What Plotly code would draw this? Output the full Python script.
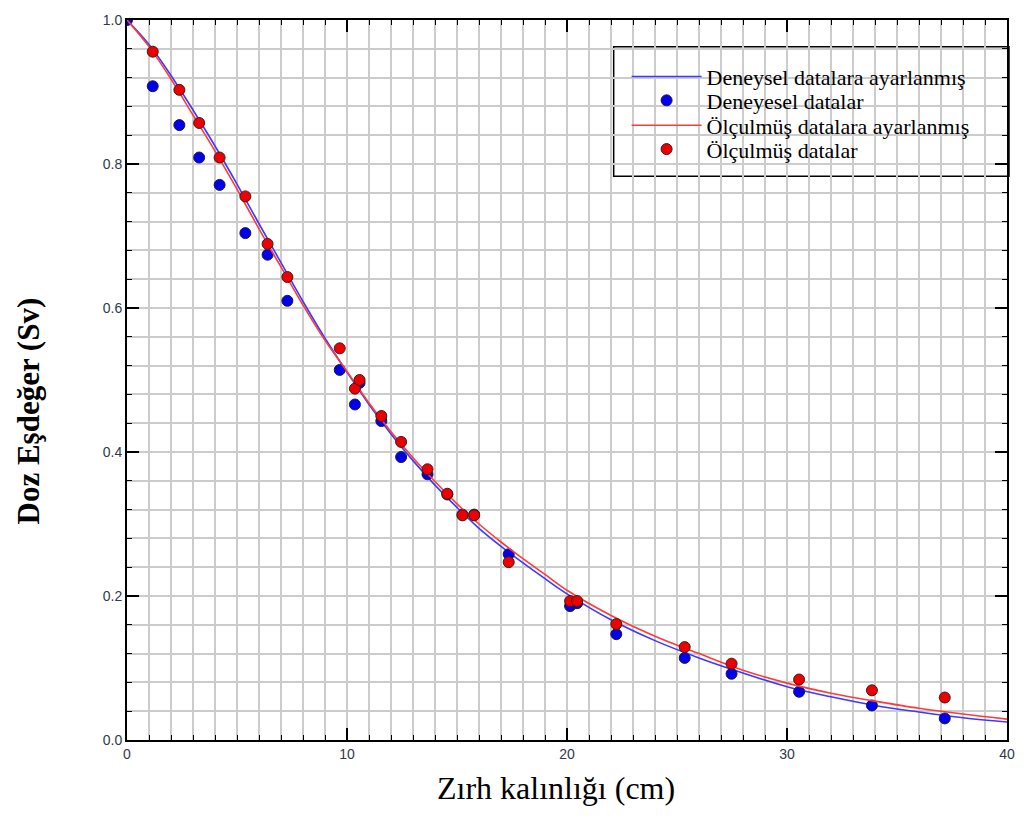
import plotly.graph_objects as go

# Experimental data (Deneyesel datalar)
exp_x = [0, 1.17, 2.38, 3.28, 4.21, 5.38, 6.39, 7.29, 9.67, 10.36, 10.57, 11.56, 12.46, 13.66,
         14.56, 15.25, 15.78, 17.35, 20.14, 20.46, 22.24, 25.35, 27.48, 30.55, 33.86, 37.17]
exp_y = [1.0, 0.908, 0.854, 0.809, 0.771, 0.704, 0.674, 0.610, 0.514, 0.466, 0.496, 0.443, 0.393, 0.369,
         0.341, 0.313, 0.313, 0.258, 0.186, 0.190, 0.147, 0.114, 0.092, 0.067, 0.048, 0.030]

# Measured data (Ölçulmüş datalar)
mea_x = [1.17, 2.38, 3.28, 4.21, 5.38, 6.39, 7.29, 9.67, 10.36, 10.57, 11.56, 12.46, 13.66,
         14.56, 15.25, 15.78, 17.35, 20.14, 20.46, 22.24, 25.35, 27.48, 30.55, 33.86, 37.17]
mea_y = [0.956, 0.903, 0.857, 0.809, 0.755, 0.689, 0.643, 0.544, 0.488, 0.500, 0.450, 0.414, 0.376,
         0.342, 0.312, 0.312, 0.247, 0.193, 0.193, 0.161, 0.129, 0.106, 0.084, 0.069, 0.059]

# Fitted curves
fit_x = [0, 1, 2, 3, 4, 5, 6, 7, 8, 9, 10, 11, 12, 13, 14, 15, 16, 17, 18, 19, 20,
         22, 24, 26, 28, 30, 32, 34, 36, 38, 40]
fit_exp_y = [1.0, 0.966, 0.923, 0.875, 0.825, 0.772, 0.717, 0.663, 0.609, 0.558, 0.511, 0.466,
             0.425, 0.388, 0.354, 0.323, 0.294, 0.269, 0.246, 0.224, 0.203,
             0.167, 0.138, 0.114, 0.093, 0.074, 0.060, 0.048, 0.039, 0.031, 0.025]
fit_mea_y = [1.0, 0.963, 0.918, 0.868, 0.818, 0.765, 0.710, 0.657, 0.604, 0.555, 0.512, 0.468,
             0.428, 0.392, 0.359, 0.328, 0.300, 0.275, 0.252, 0.230, 0.208,
             0.173, 0.144, 0.120, 0.097, 0.079, 0.065, 0.054, 0.044, 0.036, 0.029]

names = ["Deneysel datalara ayarlanmış", "Deneyesel datalar",
         "Ölçulmüş datalara ayarlanmış", "Ölçulmüş datalar"]

SERIF = "Liberation Serif, Times New Roman, serif"

fig = go.Figure()
fig.add_trace(go.Scatter(x=fit_x, y=fit_exp_y, mode="lines", name=names[0], legend="legend",
                         line=dict(color="#3a3aff", width=1.6, shape="spline")))
fig.add_trace(go.Scatter(x=exp_x, y=exp_y, mode="markers", name=names[1], legend="legend2",
                         marker=dict(color="#0000ee", size=11, line=dict(color="#1a1a40", width=1))))
fig.add_trace(go.Scatter(x=fit_x, y=fit_mea_y, mode="lines", name=names[2], legend="legend3",
                         line=dict(color="#ff3a3a", width=1.6, shape="spline")))
fig.add_trace(go.Scatter(x=mea_x, y=mea_y, mode="markers", name=names[3], legend="legend4",
                         marker=dict(color="#ee0000", size=11, line=dict(color="#401a1a", width=1))))

W, H = 1027, 833
L, R, T, B = 127, 14, 16, 93
pw, ph = W - L - R, H - T - B

def px_x(p):
    return (p - L) / pw

def px_y(p):
    return (H - B - p) / ph

tickfont = dict(family="Liberation Sans, Arial", size=14, color="#33384a")
grid = "#cccccc"

fig.update_xaxes(range=[0, 40], dtick=10, tick0=0, showgrid=True, gridcolor=grid, gridwidth=1.5,
                 ticks="inside", ticklen=12, tickwidth=1.5, tickcolor="black",
                 showline=True, linecolor="black", linewidth=2, mirror="allticks",
                 zeroline=False, tickfont=tickfont,
                 minor=dict(dtick=1, showgrid=True, gridcolor=grid, gridwidth=1.5,
                            ticks="inside", ticklen=5, tickwidth=1, tickcolor="black"))
fig.update_yaxes(range=[0, 1.0], dtick=0.2, tick0=0, tickformat=".1f", showgrid=True, gridcolor=grid,
                 gridwidth=1.5, ticks="inside", ticklen=12, tickwidth=1.5, tickcolor="black",
                 showline=True, linecolor="black", linewidth=2, mirror="allticks",
                 zeroline=False, tickfont=tickfont,
                 minor=dict(dtick=0.04, showgrid=True, gridcolor=grid, gridwidth=1.5,
                            ticks="inside", ticklen=5, tickwidth=1, tickcolor="black"))

fig.add_shape(type="rect", xref="paper", yref="paper",
              x0=px_x(617), x1=px_x(1015), y0=px_y(173), y1=px_y(43),
              line=dict(color="black", width=1.5), fillcolor="white", layer="between")

row_y = [73, 97, 122, 146]


def leg(py):
    return dict(x=px_x(630), y=px_y(py), xanchor="left", yanchor="middle",
                bgcolor="rgba(0,0,0,0)", borderwidth=0,
                font=dict(family=SERIF, size=22, color="black"),
                itemwidth=70, visible=True)


fig.update_layout(
    width=W, height=H, margin=dict(l=L, r=R, t=T, b=B),
    paper_bgcolor="white", plot_bgcolor="white",
    font=dict(family=SERIF, size=22, color="black"),
    showlegend=True,
)
fig.update_layout(legend=leg(row_y[0]))
fig.update_layout(legend2=leg(row_y[1]))
fig.update_layout(legend3=leg(row_y[2]))
fig.update_layout(legend4=leg(row_y[3]))

fig.update_layout(annotations=[
    dict(text="<b>Doz Eşdeğer (Sv)</b>", xref="paper", yref="paper",
         x=px_x(28), y=px_y(409), xanchor="center", yanchor="middle",
         showarrow=False, textangle=-90,
         font=dict(family=SERIF, size=31, color="black")),
    dict(text="Zırh kalınlığı (cm)", xref="paper", yref="paper",
         x=px_x(559), y=px_y(788), xanchor="center", yanchor="middle", showarrow=False,
         font=dict(family=SERIF, size=32, color="black")),
])

fig.write_html("out.html")
